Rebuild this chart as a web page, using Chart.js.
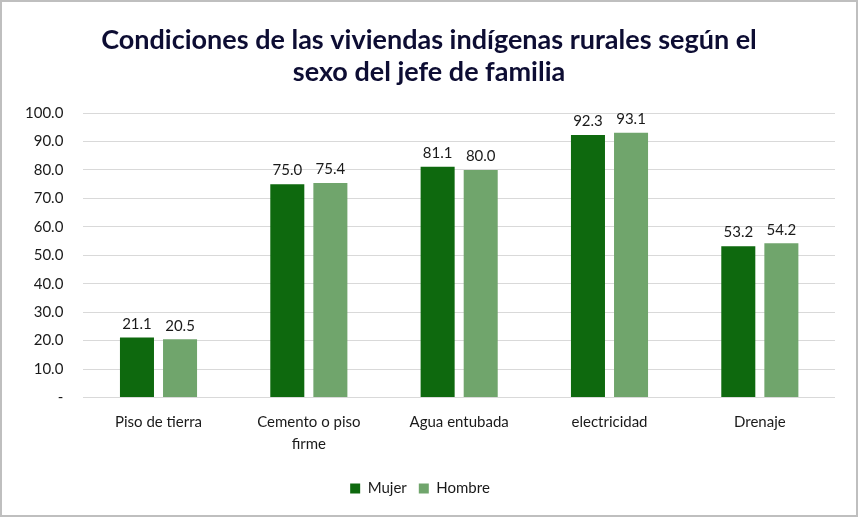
<!DOCTYPE html>
<html>
<head>
<meta charset="utf-8">
<script src="https://cdn.jsdelivr.net/npm/chart.js@4"></script>
<style>
html,body{margin:0;padding:0;background:#fff;}
#wrap{width:858px;height:517px;position:relative;}
canvas{display:block;}
</style>
</head>
<body>
<div id="wrap"><canvas id="c" width="858" height="517"></canvas></div>
<script>
const categories = [["Piso de tierra"], ["Cemento o piso", "firme"], ["Agua entubada"], ["electricidad"], ["Drenaje"]];
const mujer = [21.1, 75.0, 81.1, 92.3, 53.2];
const hombre = [20.5, 75.4, 80.0, 93.1, 54.2];
const yTicks = [0, 10, 20, 30, 40, 50, 60, 70, 80, 90, 100];
const titleLines = ["Condiciones de las viviendas indígenas rurales según el", "sexo del jefe de familia"];

const FONT = "Lato, 'Open Sans', sans-serif";

const labelPlugin = {
  id: 'barLabels',
  afterDatasetsDraw(chart) {
    const ctx = chart.ctx;
    ctx.save();
    ctx.font = "15px " + FONT;
    ctx.fillStyle = "#1a1a1a";
    ctx.textAlign = "center";
    ctx.textBaseline = "bottom";
    chart.data.datasets.forEach((ds, i) => {
      const meta = chart.getDatasetMeta(i);
      meta.data.forEach((bar, j) => {
        ctx.fillText(ds.data[j].toFixed(1), bar.x, bar.y - 6);
      });
    });
    ctx.restore();
  }
};

const titlePlugin = {
  id: 'centeredTitle',
  afterDraw(chart) {
    const ctx = chart.ctx;
    ctx.save();
    ctx.font = "bold 27px " + FONT;
    ctx.fillStyle = "#0d0d33";
    ctx.textAlign = "center";
    ctx.textBaseline = "middle";
    titleLines.forEach((line, i) => ctx.fillText(line, chart.width / 2, 40 + i * 32));
    ctx.restore();
  }
};

const borderPlugin = {
  id: 'frame',
  afterDraw(chart) {
    const ctx = chart.ctx;
    ctx.save();
    ctx.strokeStyle = "#bfbfbf";
    ctx.lineWidth = 2;
    ctx.strokeRect(1, 1, chart.width - 2, chart.height - 2);
    ctx.restore();
  }
};

new Chart(document.getElementById('c'), {
  type: 'bar',
  data: {
    labels: categories,
    datasets: [
      { label: 'Mujer', data: mujer, backgroundColor: '#0e690e' },
      { label: 'Hombre', data: hombre, backgroundColor: '#70a56c' }
    ]
  },
  options: {
    responsive: false,
    animation: false,
    devicePixelRatio: 1,
    layout: { padding: { left: 5, right: 23, top: 113, bottom: 11 } },
    datasets: { bar: { categoryPercentage: 0.573, barPercentage: 0.79 } },
    scales: {
      x: {
        grid: { display: false },
        border: { display: false },
        afterFit(scale) { scale.height += 8; },
        ticks: { color: '#1a1a1a', font: { family: FONT, size: 15, lineHeight: 1.45 }, padding: 6, maxRotation: 0, autoSkip: false }
      },
      y: {
        min: 0, max: 100,
        afterBuildTicks(scale) { scale.ticks = yTicks.map(v => ({ value: v })); },
        grid: { color: '#d9d9d9', drawTicks: false },
        border: { display: false },
        ticks: {
          color: '#1a1a1a', font: { family: FONT, size: 15 }, padding: 20,
          callback: v => v === 0 ? '-' : v.toFixed(1)
        }
      }
    },
    plugins: {
      title: { display: false },
      legend: {
        position: 'bottom',
        labels: { color: '#1a1a1a', font: { family: FONT, size: 15 }, boxWidth: 10, boxHeight: 10, padding: 12 }
      },
      tooltip: { enabled: false }
    }
  },
  plugins: [labelPlugin, titlePlugin, borderPlugin]
});
</script>
</body>
</html>
